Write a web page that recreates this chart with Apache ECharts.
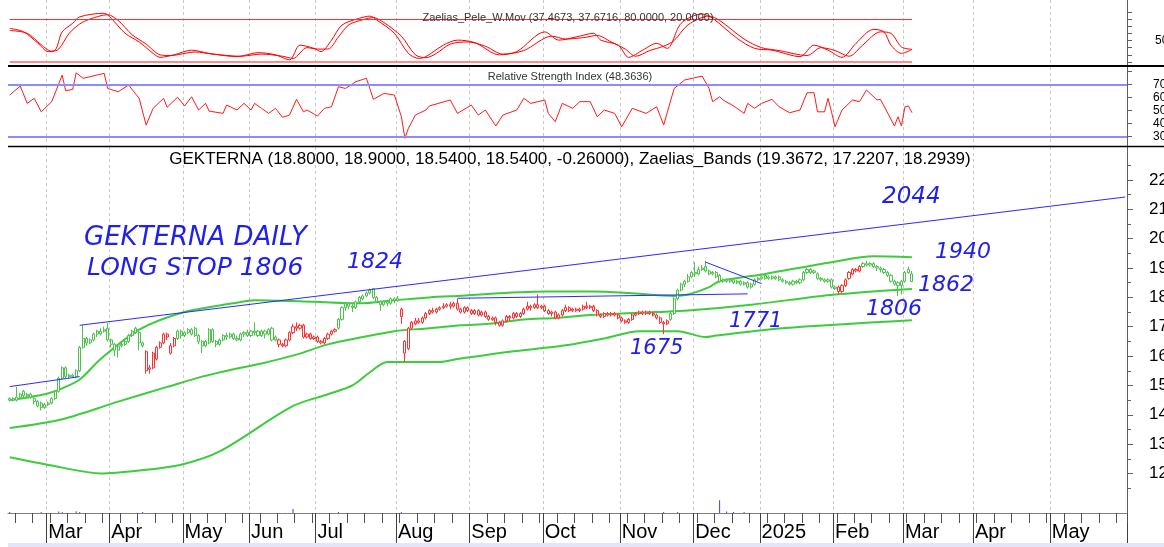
<!DOCTYPE html>
<html lang="en">
<head>
<meta charset="UTF-8">
<title>GEKTERNA daily</title>
<script src="https://cdn.jsdelivr.net/npm/echarts@6/dist/echarts.min.js"></script>
<style>
html,body{margin:0;padding:0;background:#fff;}
#main{width:1164px;height:547px;}
</style>
</head>
<body>
<div id="main"></div>
<script>
// trading-day slots on the x axis (last ~60 are empty future days)
var slotCount = 320;
var monthStart = [11, 29, 50, 69, 88, 111, 132, 153, 175, 196, 215, 236, 256, 276, 298];
var monthLabel = ['Mar', 'Apr', 'May', 'Jun', 'Jul', 'Aug', 'Sep', 'Oct', 'Nov', 'Dec', '2025', 'Feb', 'Mar', 'Apr', 'May'];

// daily candles [open, close, low, high]
var candles = [
  [14.50,14.55,14.45,14.60],[14.55,14.50,14.45,14.60],[14.50,14.60,14.45,14.95],[14.60,14.70,14.55,14.75],[14.80,14.65,14.60,14.85],
  [14.65,14.70,14.60,14.75],[14.70,14.60,14.55,14.75],[14.55,14.45,14.35,14.60],[14.45,14.30,14.25,14.50],[14.40,14.25,14.15,14.45],
  [14.25,14.35,14.20,14.40],[14.35,14.40,14.30,14.45],[14.40,14.55,14.35,14.60],[14.55,14.80,14.50,14.85],[14.80,15.25,14.75,15.30],
  [15.25,15.60,15.20,15.65],[15.60,15.30,15.25,15.65],[15.30,15.35,15.25,15.40],[15.35,15.30,15.25,15.40],[15.30,15.50,15.25,15.55],
  [15.50,16.30,15.45,16.35],[16.30,16.60,16.25,17.07],[16.60,16.45,16.35,16.65],[16.45,16.55,16.40,16.60],[16.55,16.75,16.50,16.80],
  [16.85,16.75,16.65,16.90],[16.75,16.85,16.70,16.95],[16.85,16.90,16.80,17.00],[16.95,16.55,16.50,17.13],[16.55,16.40,16.30,16.60],
  [16.40,16.20,16.00,16.45],[16.20,16.35,15.95,16.40],[16.35,16.40,16.30,16.50],[16.40,16.50,16.35,16.55],[16.50,16.70,16.45,16.75],
  [16.70,16.85,16.65,16.90],[16.95,16.80,16.75,17.00],[16.80,16.45,16.20,16.85],[16.45,16.35,16.30,16.50],[16.15,15.50,15.40,16.20],
  [15.55,15.60,15.40,15.70],[15.60,16.10,15.55,16.15],[15.90,16.30,15.85,16.35],[16.30,16.45,16.25,16.50],[16.45,16.75,16.40,16.80],
  [16.75,16.65,16.55,16.80],[16.10,16.35,16.05,16.45],[16.35,16.60,16.30,16.65],[16.60,16.85,16.55,16.90],[16.85,16.70,16.60,16.90],
  [16.70,16.80,16.65,16.85],[16.80,16.90,16.75,16.95],[16.90,16.75,16.70,16.95],[16.95,16.70,16.65,17.00],[16.70,16.50,16.40,16.75],
  [16.50,16.35,16.10,16.55],[16.35,16.50,16.30,16.55],[16.45,16.90,16.40,16.95],[16.90,16.50,16.45,16.95],[16.50,16.40,16.30,16.55],
  [16.40,16.55,16.35,16.60],[16.55,16.70,16.50,16.75],[16.70,16.65,16.55,16.80],[16.65,16.75,16.60,16.80],[16.75,16.60,16.55,16.80],
  [16.60,16.55,16.50,16.70],[16.55,16.75,16.50,16.80],[16.75,16.80,16.65,16.85],[16.80,16.70,16.65,16.90],[16.70,16.85,16.65,16.90],
  [16.85,16.80,16.70,17.15],[16.85,16.70,16.65,16.90],[16.70,16.85,16.65,16.90],[16.85,16.75,16.60,16.90],[16.75,16.90,16.70,16.95],
  [16.95,16.55,16.50,17.00],[16.55,16.65,16.50,16.70],[16.55,16.40,16.30,16.60],[16.40,16.35,16.30,16.45],[16.35,16.55,16.30,16.60],
  [16.55,16.80,16.50,16.85],[16.80,17.00,16.75,17.10],[17.00,16.95,16.85,17.15],[16.95,17.05,16.90,17.10],[17.05,16.65,16.60,17.10],
  [16.65,16.75,16.60,16.80],[16.75,16.60,16.55,16.80],[16.60,16.65,16.55,16.70],[16.65,16.50,16.45,16.70],[16.50,16.45,16.40,16.55],
  [16.45,16.60,16.40,16.65],[16.60,16.75,16.55,16.80],[16.75,16.85,16.70,16.90],[16.85,16.90,16.80,16.95],[16.95,17.25,16.90,17.30],
  [17.25,17.65,17.20,17.70],[17.65,17.80,17.55,17.85],[17.80,17.70,17.60,17.85],[17.70,17.65,17.50,17.80],[17.65,17.85,17.60,17.90],
  [17.85,18.00,17.80,18.05],[17.95,18.05,17.90,18.10],[18.05,18.15,18.00,18.20],[18.15,18.25,18.10,18.30],[18.30,18.00,17.95,18.32],
  [18.00,17.85,17.80,18.05],[17.85,17.75,17.55,17.90],[17.75,17.85,17.70,17.90],[17.85,17.80,17.70,17.90],[17.80,17.95,17.75,18.00],
  [17.95,17.90,17.80,18.00],[17.90,17.95,17.85,18.05],[17.60,17.35,17.10,17.65],[16.50,16.10,15.80,16.55],[16.25,16.95,16.20,17.00],
  [16.95,17.15,16.90,17.20],[17.10,17.20,17.05,17.30],[17.20,17.15,17.10,17.30],[17.15,17.30,17.10,17.35],[17.30,17.45,17.25,17.50],
  [17.45,17.55,17.40,17.60],[17.55,17.50,17.45,17.65],[17.50,17.60,17.45,17.65],[17.60,17.65,17.55,17.70],[17.65,17.70,17.60,17.80],
  [17.70,17.75,17.65,17.80],[17.75,17.70,17.60,17.85],[17.70,17.80,17.65,17.85],[17.80,17.60,17.55,17.95],[17.60,17.50,17.45,17.65],
  [17.50,17.65,17.45,17.70],[17.65,17.55,17.50,17.70],[17.55,17.45,17.40,17.60],[17.45,17.55,17.40,17.60],[17.55,17.40,17.35,17.60],
  [17.40,17.50,17.35,17.55],[17.50,17.35,17.30,17.55],[17.35,17.25,17.20,17.40],[17.25,17.30,17.20,17.35],[17.30,17.15,17.05,17.35],
  [17.15,17.05,17.00,17.20],[17.05,17.20,17.00,17.25],[17.20,17.35,17.15,17.40],[17.35,17.30,17.20,17.40],[17.30,17.45,17.25,17.50],
  [17.45,17.35,17.30,17.50],[17.35,17.45,17.30,17.50],[17.45,17.60,17.40,17.65],[17.60,17.70,17.55,17.85],[17.70,17.65,17.55,17.75],
  [17.65,17.75,17.60,17.80],[17.75,17.65,17.60,18.10],[17.65,17.70,17.60,17.75],[17.70,17.55,17.50,17.75],[17.55,17.45,17.40,17.60],
  [17.45,17.50,17.35,17.55],[17.50,17.30,17.25,17.55],[17.30,17.40,17.25,17.45],[17.40,17.55,17.35,17.60],[17.55,17.65,17.50,17.75],
  [17.65,17.55,17.50,17.70],[17.55,17.60,17.50,17.65],[17.60,17.55,17.50,17.65],[17.55,17.60,17.50,17.65],[17.60,17.70,17.55,17.75],
  [17.70,17.65,17.60,17.85],[17.65,17.70,17.60,17.75],[17.70,17.55,17.50,17.75],[17.55,17.40,17.35,17.60],[17.40,17.35,17.30,17.45],
  [17.35,17.45,17.30,17.50],[17.45,17.40,17.35,17.50],[17.40,17.45,17.35,17.50],[17.45,17.40,17.35,17.50],[17.40,17.30,17.25,17.45],
  [17.30,17.20,17.15,17.35],[17.20,17.15,17.10,17.25],[17.15,17.25,17.10,17.30],[17.25,17.40,17.20,17.45],[17.40,17.45,17.35,17.50],
  [17.45,17.50,17.40,17.55],[17.50,17.45,17.40,17.55],[17.45,17.50,17.40,17.55],[17.50,17.45,17.40,17.55],[17.45,17.40,17.35,17.50],
  [17.40,17.30,17.25,17.45],[17.30,17.15,17.10,17.35],[17.15,17.10,16.75,17.20],[17.10,17.20,17.05,17.25],[17.25,17.45,17.20,17.50],
  [17.45,17.95,17.40,18.00],[17.95,18.25,17.90,18.30],[18.25,18.45,18.20,18.50],[18.45,18.55,18.35,18.60],[18.55,18.70,18.50,18.80],
  [18.70,18.85,18.65,18.90],[18.85,18.80,18.70,19.20],[18.80,18.95,18.75,19.05],[18.95,19.00,18.90,19.10],[19.05,18.90,18.85,19.25],
  [18.90,18.80,18.75,18.95],[18.80,18.85,18.75,18.90],[18.85,18.70,18.65,18.90],[18.75,18.55,18.50,18.80],[18.55,18.60,18.50,18.65],
  [18.60,18.55,18.50,18.65],[18.55,18.60,18.50,18.65],[18.60,18.50,18.45,18.65],[18.50,18.55,18.45,18.60],[18.55,18.45,18.40,18.60],
  [18.45,18.50,18.40,18.55],[18.50,18.35,18.30,18.55],[18.35,18.45,18.30,18.50],[18.45,18.60,18.40,18.65],[18.60,18.65,18.55,18.70],
  [18.65,18.70,18.60,18.75],[18.75,18.65,18.60,18.80],[18.65,18.70,18.60,18.75],[18.70,18.65,18.60,18.75],[18.65,18.70,18.60,18.75],
  [18.70,18.60,18.55,18.75],[18.60,18.55,18.50,18.65],[18.55,18.50,18.45,18.60],[18.50,18.45,18.40,18.55],[18.45,18.55,18.40,18.60],
  [18.55,18.50,18.45,18.60],[18.50,18.60,18.45,18.65],[18.60,18.85,18.55,18.90],[18.85,18.95,18.80,19.00],[18.95,18.85,18.80,19.00],
  [18.90,18.85,18.80,18.95],[18.80,18.65,18.60,18.85],[18.65,18.60,18.55,18.70],[18.60,18.55,18.50,18.65],[18.55,18.60,18.50,18.65],
  [18.60,18.35,18.30,18.65],[18.35,18.30,18.25,18.40],[18.35,18.20,18.10,18.40],[18.20,18.40,18.15,18.45],[18.40,18.60,18.35,18.65],
  [18.65,18.85,18.60,18.90],[18.80,18.95,18.75,19.00],[18.90,18.95,18.85,19.00],[18.90,19.05,18.85,19.10],[19.05,19.15,19.00,19.20],
  [19.15,19.10,19.05,19.25],[19.10,19.15,19.05,19.20],[19.15,19.05,19.00,19.20],[19.05,19.00,18.90,19.10],[19.00,18.95,18.85,19.05],
  [18.95,18.85,18.80,19.00],[18.85,18.75,18.70,18.90],[18.75,18.55,18.50,18.80],[18.55,18.45,18.40,18.60],[18.50,18.40,18.05,18.55],
  [18.40,18.55,18.10,18.60],[18.55,18.85,18.50,18.90],[18.85,18.95,18.80,19.05],[18.80,18.54,18.54,18.90]
];
// days the candles are drawn red (first..last index)
var redRanges = [[39, 47], [77, 93], [112, 188], [237, 243]];

// Zaelias bands, read at sample days [day, value]
var upperBand = [[0,14.5],[10,14.7],[15,14.9],[20,15.2],[26,15.9],[37,16.9],[50,17.5],[64,17.8],[70,17.9],[87,17.85],[100,17.8],[110,17.9],[120,18.0],[128,18.05],[153,18.2],[167,18.2],[177,18.15],[190,18.05],[194,18.1],[200,18.35],[203,18.55],[216,18.8],[235,19.2],[247,19.4],[258,19.37]];
var middleBand = [[0,13.55],[15,13.85],[31,14.45],[45,14.95],[55,15.3],[64,15.55],[72,15.75],[82,16.05],[91,16.4],[101,16.65],[110,16.85],[120,16.95],[129,17.05],[137,17.1],[147,17.25],[156,17.3],[166,17.4],[175,17.45],[185,17.5],[194,17.55],[212,17.75],[236,18.1],[258,18.29]];
var lowerBand = [[0,12.55],[15,12.2],[26,12.0],[37,12.1],[49,12.3],[60,12.75],[81,14.3],[91,14.7],[98,15.0],[103,15.45],[108,15.8],[123,15.8],[128,15.9],[143,16.15],[158,16.35],[170,16.6],[180,16.85],[191,16.85],[199,16.65],[202,16.7],[221,16.95],[258,17.22]];

// Zaelias_Pele_W.Mov, two lines
var peleFast = [[0,67],[4,62],[8,46.5],[11,34.5],[13,36.5],[15,62],[18,74],[20,83],[27,88],[29,81],[33,60],[37,48],[41,32],[43,26.5],[47,30],[52,36.5],[57,32],[65,27.5],[71,33],[76,30],[80,23],[83,43.5],[87,39],[89,34.5],[92,50.5],[95,71.5],[100,81],[103,84],[105,78.5],[110,60],[114,32],[117,25],[119,27.5],[124,43.5],[128,50.5],[133,47],[140,30],[145,34.5],[153,62],[157,50.5],[162,55],[167,60],[169,50.5],[174,43.5],[177,26.5],[181,36.5],[185,46],[188,39],[192,74],[198,87],[201,81],[208,53],[213,39],[218,36.5],[226,27.5],[230,43.5],[234,36.5],[238,26.5],[242,46],[247,65.5],[250,62],[252,43.5],[255,32],[258,37.47]];
var peleSlow = [[0,64],[5,60],[9,44],[12,35],[14,38],[17,60],[20,73],[23,80],[28,86],[31,78],[35,58],[39,45],[43,30],[46,29],[53,34],[58,31],[66,28],[72,31],[78,28],[81,25],[85,40],[88,38],[91,38],[94,55],[97,72],[101,79],[104,82],[107,75],[112,56],[116,30],[119,26],[122,32],[126,45],[131,48],[136,42],[141,31],[147,36],[155,56],[159,52],[164,54],[168,57],[172,48],[176,38],[179,28],[183,36],[187,42],[190,50],[194,72],[200,84],[203,78],[210,52],[215,40],[220,36],[228,29],[232,40],[236,36],[240,28],[244,44],[249,62],[252,60],[255,41],[258,37.67]];
var peleLevels = [80, 20];

// Relative Strength Index
var rsiLine = [[0,61.9],[3,68.8],[5,55.5],[7,59.4],[9,49],[12,56.8],[15,77.3],[16,65.2],[18,66.3],[19,79],[21,74.8],[27,78.6],[28,67],[31,64.5],[34,69.6],[37,59.4],[39,38.8],[41,51.7],[44,59.4],[45,52.5],[48,60.2],[50,53.5],[52,60.6],[54,50.4],[56,55.5],[57,49.6],[61,47.8],[62,54.2],[65,50.4],[67,55.5],[69,50.4],[70,55.5],[72,51.7],[74,47.8],[76,51.7],[78,44.8],[80,46.5],[82,58.6],[84,49],[85,50.4],[88,45.8],[90,51.7],[92,52.9],[94,68.3],[96,67],[99,72.2],[102,74.8],[104,58.6],[107,63.2],[110,61.9],[112,45.2],[113,28.6],[114,36.3],[116,46.5],[119,50.4],[120,53.5],[126,58.1],[128,47.8],[132,54.2],[134,46.5],[136,50.4],[139,38.1],[141,46.5],[145,50.4],[147,59.4],[149,55.5],[153,58.1],[154,47.8],[156,41.4],[158,55.5],[161,51.7],[163,56.8],[166,56.8],[168,45.2],[170,50.4],[173,47.8],[175,37.5],[178,51.7],[182,47.8],[185,52.9],[187,38.8],[190,67],[193,73.5],[198,76.5],[200,67],[201,56.8],[203,60.6],[204,58.1],[207,53.5],[210,47.8],[211,55.5],[213,51.7],[215,55.5],[218,58.6],[220,52.9],[223,48.3],[226,50.4],[228,63.7],[230,63.7],[231,49],[233,49],[234,59.4],[235,49],[236,37.5],[238,50.4],[241,58.1],[243,56.8],[245,65.8],[248,58.1],[249,58.6],[253,38.1],[254,45.2],[255,38.1],[256,52.9],[257,53.5],[258,48.36]];
var rsiLevels = [70, 30];

// volume (only the visible spikes)
var volume = [[0,3],[9,3],[14,4],[15,3],[19,5],[20,3],[38,3],[81,11],[94,3],[112,3],[187,3],[191,3],[203,35],[205,4],[207,3],[210,3]];

// hand drawn trend lines [day1, price1, day2, price2]
var trendLines = [[20,17.05,319,21.42],[0,14.96,20,15.30],[128,17.97,211,18.12],[199,19.2,215,18.47]];

var priceTicks = [12,13,14,15,16,17,18,19,20,21,22];
var priceMinor = [11.5,12.5,13.5,14.5,15.5,16.5,17.5,18.5,19.5,20.5,21.5,22.5];
var peleTicks = [20,30,40,50,60,70,80,90];
var rsiTicks = [30,40,50,60,70,80];

var mainTitle = 'GEKTERNA (18.8000, 18.9000, 18.5400, 18.5400, -0.26000), Zaelias_Bands (19.3672, 17.2207, 18.2939)';
var peleTitle = 'Zaelias_Pele_W.Mov (37.4673, 37.6716, 80.0000, 20.0000)';
var rsiTitle = 'Relative Strength Index (48.3636)';

// handwritten notes: text, left, top, size
var notes = [
  ['GEKTERNA DAILY', 84, 225, 26],
  ['LONG STOP 1806', 87, 256, 25],
  ['1824', 347, 251, 22],
  ['2044', 882, 186, 23],
  ['1940', 935, 241, 22],
  ['1862', 918, 274, 22],
  ['1806', 866, 298, 22],
  ['1771', 729, 311, 21],
  ['1675', 630, 338, 21]
];

var cats = [];
for (var i = 0; i < slotCount; i++) cats.push(String(i));

function isMonth(i) { return monthStart.indexOf(i) >= 0; }
function isRed(i) {
  for (var k = 0; k < redRanges.length; k++) {
    if (i >= redRanges[k][0] && i <= redRanges[k][1]) return true;
  }
  return false;
}
var greenStyle = {color: '#ffffff', borderColor: '#4cc24c', color0: '#0a8a0a', borderColor0: '#0a8a0a'};
var redStyle = {color: '#ffffff', borderColor: '#ff3030', color0: '#ff0000', borderColor0: '#ff0000'};
var candleItems = candles.map(function (c, i) {
  return {value: c, itemStyle: isRed(i) ? redStyle : greenStyle};
});
var lastDay = candles.length - 1;

var dashGrid = {show: true, interval: function (i) { return isMonth(i); }, lineStyle: {color: '#c8c8c8', type: [3, 3], width: 1}};
function plainX(grid) {
  return {type: 'category', gridIndex: grid, position: 'bottom', data: cats, boundaryGap: true,
    axisLine: {show: false}, axisTick: {show: false}, axisLabel: {show: false}, splitLine: dashGrid};
}
var font = 'Liberation Sans, Arial, sans-serif';

var myChart = echarts.init(document.getElementById('main'));
var option = {
  animation: false,
  backgroundColor: '#ffffff',
  grid: [
    {left: 8, right: 37, top: 0, height: 66, containLabel: false, outerBoundsMode: 'none'},
    {left: 8, right: 37, top: 67, height: 79, containLabel: false, outerBoundsMode: 'none'},
    {left: 8, right: 37, top: 147, height: 366, containLabel: false, outerBoundsMode: 'none'}
  ],
  xAxis: [
    plainX(0),
    plainX(1),
    {
      type: 'category', gridIndex: 2, position: 'bottom', data: cats, boundaryGap: true,
      axisLine: {show: true, lineStyle: {color: '#808080', width: 1}},
      axisTick: {show: true, length: 30, interval: function (i) { return isMonth(i); }, lineStyle: {color: '#404040'}},
      axisLabel: {
        show: true, interval: function (i) { return isMonth(i); },
        formatter: function (v) { return monthLabel[monthStart.indexOf(Number(v))]; },
        align: 'left', verticalAlign: 'top', margin: 9,
        color: '#000', fontSize: 20, fontFamily: font
      },
      splitLine: dashGrid
    },
    {
      type: 'category', gridIndex: 2, position: 'bottom', data: cats, boundaryGap: true,
      axisLine: {show: false},
      axisTick: {show: true, length: 10, interval: function (i) { return (i - 2) % 5 === 0 && !isMonth(i); }, lineStyle: {color: '#505050'}},
      axisLabel: {show: false}, splitLine: {show: false}
    }
  ],
  yAxis: [
    {
      type: 'value', gridIndex: 0, position: 'right', min: 14.4, max: 106.5,
      axisLine: {show: true, lineStyle: {color: '#606060'}},
      axisTick: {show: true, length: 5, customValues: peleTicks, lineStyle: {color: '#606060'}},
      axisLabel: {show: true, customValues: [50], margin: 28, color: '#000', fontSize: 12, fontFamily: font},
      splitLine: {show: false}
    },
    {
      type: 'value', gridIndex: 1, position: 'right', min: 22.7, max: 83.5,
      axisLine: {show: true, lineStyle: {color: '#606060'}},
      axisTick: {show: true, length: 5, customValues: rsiTicks, lineStyle: {color: '#606060'}},
      axisLabel: {show: true, customValues: [30, 40, 50, 60, 70], margin: 26, color: '#000', fontSize: 12, fontFamily: font},
      splitLine: {show: false}
    },
    {
      type: 'value', gridIndex: 2, position: 'right', min: 10.654, max: 23.124,
      axisLine: {show: true, lineStyle: {color: '#606060'}},
      axisTick: {show: true, length: 6, customValues: priceTicks, lineStyle: {color: '#606060'}},
      axisLabel: {show: true, customValues: priceTicks, margin: 22, color: '#000', fontSize: 17, fontFamily: font},
      splitLine: {show: false}
    },
    {
      type: 'value', gridIndex: 2, position: 'right', min: 10.654, max: 23.124,
      axisLine: {show: false},
      axisTick: {show: true, length: 4, customValues: priceMinor, lineStyle: {color: '#606060'}},
      axisLabel: {show: false}, splitLine: {show: false}
    },
    {
      type: 'value', gridIndex: 2, position: 'right', min: 0, max: 1000, show: false
    }
  ],
  series: [
    {
      name: 'peleFast', type: 'line', xAxisIndex: 0, yAxisIndex: 0, data: peleFast,
      showSymbol: false, smooth: 0.3, lineStyle: {color: '#ff0000', width: 1},
      markLine: {
        silent: true, symbol: 'none', label: {show: false},
        data: [
          [{coord: [0, peleLevels[0]], lineStyle: {color: '#ff3030', width: 1, type: 'solid'}}, {coord: [lastDay, peleLevels[0]]}],
          [{coord: [0, peleLevels[1]], lineStyle: {color: '#ff8c8c', width: 2, type: 'solid'}}, {coord: [lastDay, peleLevels[1]]}]
        ]
      }
    },
    {
      name: 'peleSlow', type: 'line', xAxisIndex: 0, yAxisIndex: 0, data: peleSlow,
      showSymbol: false, smooth: 0.3, lineStyle: {color: '#ff0000', width: 1}
    },
    {
      name: 'rsi', type: 'line', xAxisIndex: 1, yAxisIndex: 1, data: rsiLine,
      showSymbol: false, lineStyle: {color: '#ff1a1a', width: 1},
      markLine: {
        silent: true, symbol: 'none', label: {show: false},
        lineStyle: {color: '#8c8cff', width: 2, type: 'solid'},
        data: [{yAxis: rsiLevels[0]}, {yAxis: rsiLevels[1]}]
      }
    },
    {
      name: 'volume', type: 'bar', xAxisIndex: 2, yAxisIndex: 4, data: volume,
      barWidth: 1, itemStyle: {color: '#3c3cff'}, z: 1
    },
    {
      name: 'upper', type: 'line', xAxisIndex: 2, yAxisIndex: 2, data: upperBand,
      showSymbol: false, smooth: 0.3, lineStyle: {color: '#3ccc3c', width: 2}, z: 2
    },
    {
      name: 'middle', type: 'line', xAxisIndex: 2, yAxisIndex: 2, data: middleBand,
      showSymbol: false, smooth: 0.3, lineStyle: {color: '#3ccc3c', width: 2}, z: 2
    },
    {
      name: 'lower', type: 'line', xAxisIndex: 2, yAxisIndex: 2, data: lowerBand,
      showSymbol: false, smooth: 0.3, lineStyle: {color: '#3ccc3c', width: 2}, z: 2
    },
    {
      name: 'GEKTERNA', type: 'candlestick', xAxisIndex: 2, yAxisIndex: 2, data: candleItems,
      barWidth: 2.6, itemStyle: {borderWidth: 1}, z: 3,
      markLine: {
        silent: true, symbol: 'none', label: {show: false},
        lineStyle: {color: '#2a2aff', width: 1, type: 'solid'},
        data: trendLines.map(function (t) {
          return [{coord: [t[0], t[1]]}, {coord: [t[2], t[3]]}];
        })
      }
    }
  ],
  graphic: [
    {type: 'line', shape: {x1: 8, y1: 66, x2: 1164, y2: 66}, style: {stroke: '#000', lineWidth: 2}, z: 10},
    {type: 'line', shape: {x1: 8, y1: 146.5, x2: 1164, y2: 146.5}, style: {stroke: '#000', lineWidth: 1.5}, z: 10},
    {type: 'rect', shape: {x: 8, y: 543, width: 1156, height: 4}, style: {fill: '#e4e6f8'}, z: 10},
    {type: 'text', x: 568, y: 18, style: {text: peleTitle, fill: '#333', font: '11px ' + font, align: 'center', verticalAlign: 'middle'}, z: 10},
    {type: 'text', x: 570, y: 77, style: {text: rsiTitle, fill: '#333', font: '11px ' + font, align: 'center', verticalAlign: 'middle'}, z: 10},
    {type: 'text', x: 570, y: 159, style: {text: mainTitle, fill: '#000', font: '17px ' + font, align: 'center', verticalAlign: 'middle'}, z: 10}
  ].concat(notes.map(function (n) {
    return {type: 'text', x: n[1], y: n[2], z: 10,
      style: {text: n[0], fill: '#2020ee', font: 'italic ' + n[3] + 'px DejaVu Sans', align: 'left', verticalAlign: 'top'}};
  }))
};
myChart.setOption(option);
</script>
</body>
</html>
